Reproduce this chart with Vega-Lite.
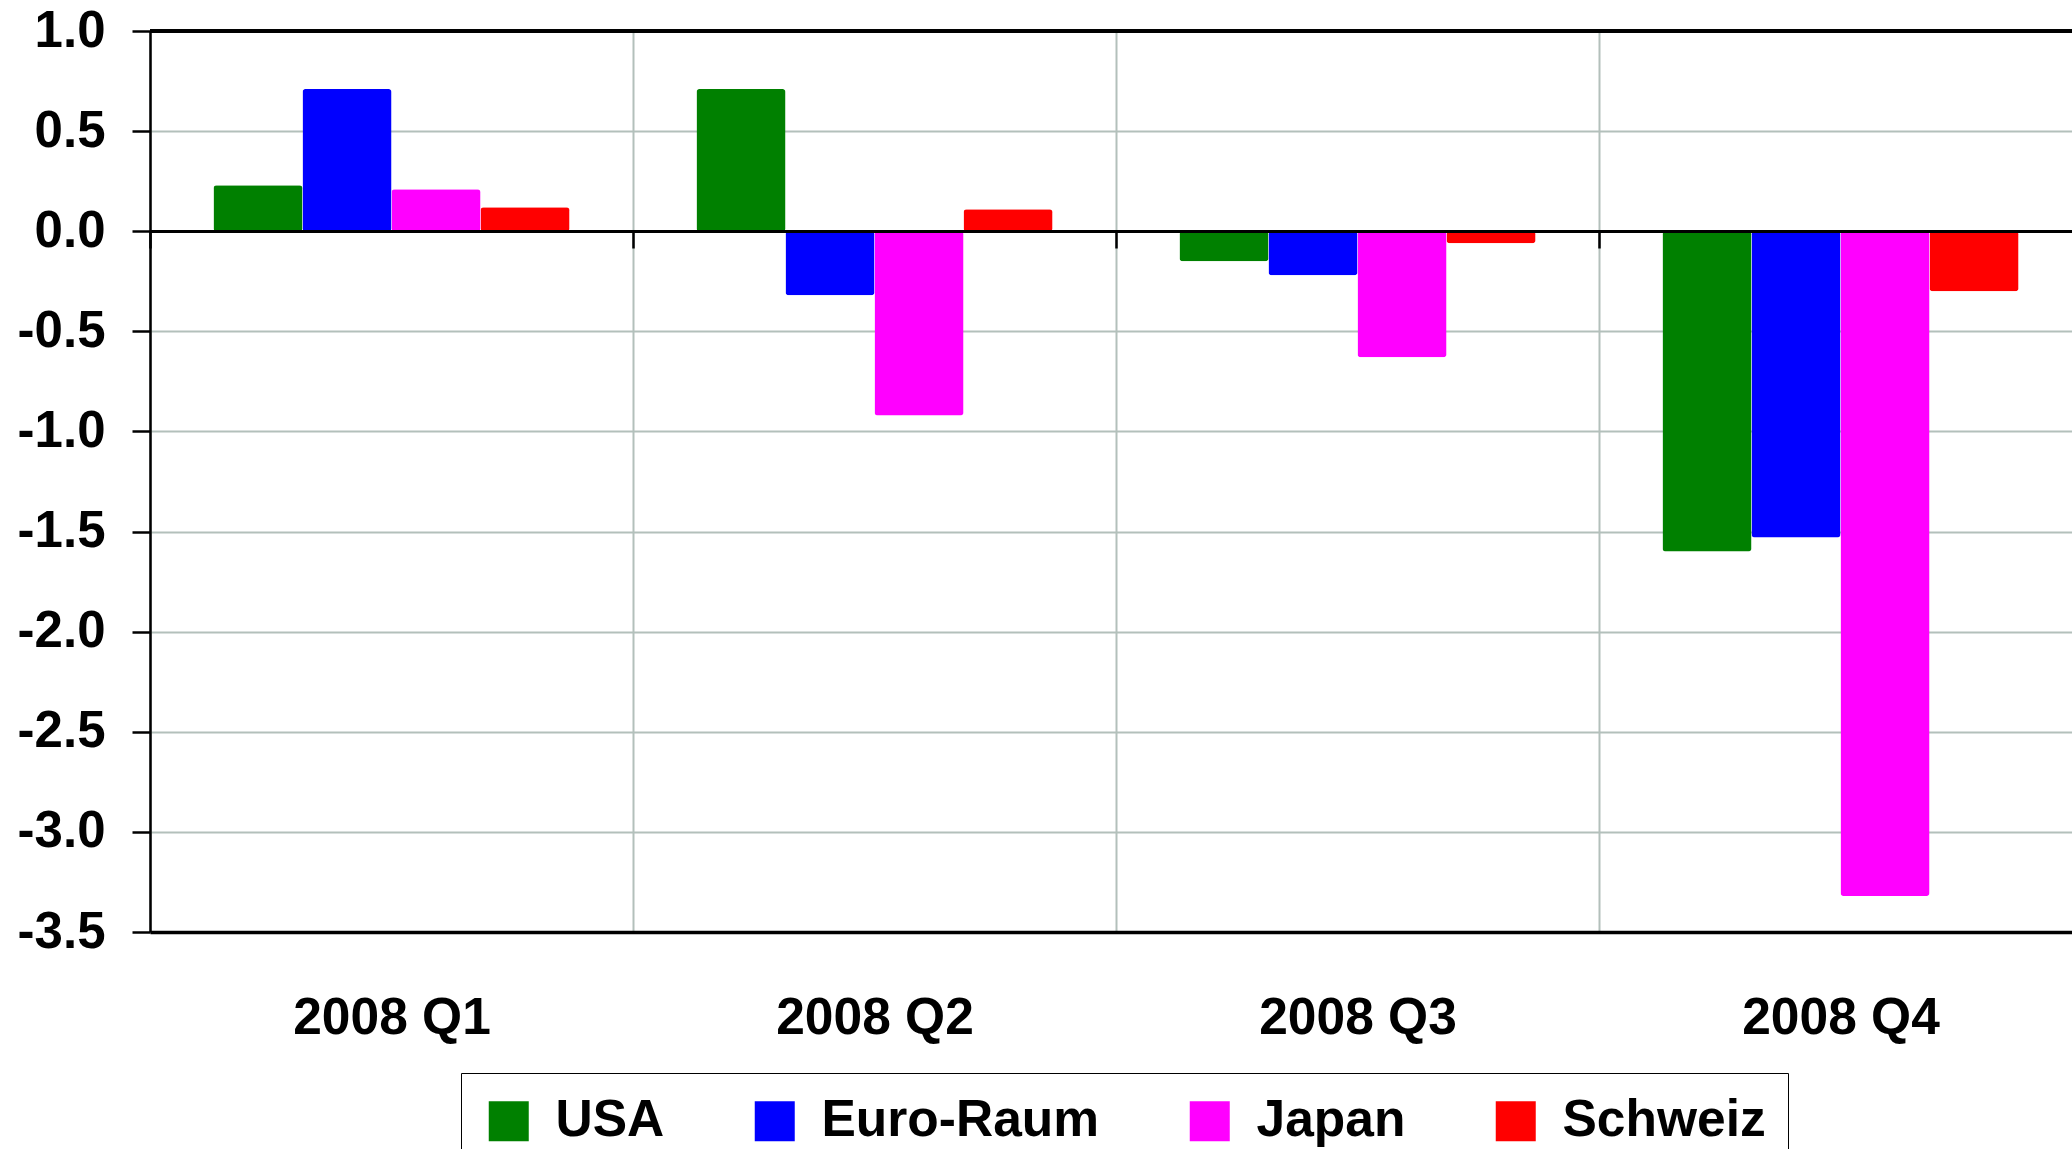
{
  "$schema": "https://vega.github.io/schema/vega-lite/v6.json",
  "autosize": {"type": "none"},
  "padding": {"left": 150, "top": 31, "right": 0, "bottom": 217},
  "width": 1922,
  "height": 901,
  "background": "white",
  "config": {
    "font": "Liberation Sans",
    "view": {"stroke": null}
  },
  "data": {
    "values": [
      {"quarter": "2008 Q1", "region": "USA", "value": 0.23},
      {"quarter": "2008 Q1", "region": "Euro-Raum", "value": 0.71},
      {"quarter": "2008 Q1", "region": "Japan", "value": 0.21},
      {"quarter": "2008 Q1", "region": "Schweiz", "value": 0.12},
      {"quarter": "2008 Q2", "region": "USA", "value": 0.71},
      {"quarter": "2008 Q2", "region": "Euro-Raum", "value": -0.32},
      {"quarter": "2008 Q2", "region": "Japan", "value": -0.92},
      {"quarter": "2008 Q2", "region": "Schweiz", "value": 0.11},
      {"quarter": "2008 Q3", "region": "USA", "value": -0.15},
      {"quarter": "2008 Q3", "region": "Euro-Raum", "value": -0.22},
      {"quarter": "2008 Q3", "region": "Japan", "value": -0.63},
      {"quarter": "2008 Q3", "region": "Schweiz", "value": -0.06},
      {"quarter": "2008 Q4", "region": "USA", "value": -1.6},
      {"quarter": "2008 Q4", "region": "Euro-Raum", "value": -1.53},
      {"quarter": "2008 Q4", "region": "Japan", "value": -3.32},
      {"quarter": "2008 Q4", "region": "Schweiz", "value": -0.3}
    ]
  },
  "resolve": {"axis": {"x": "independent"}},
  "layer": [
    {
      "mark": {"type": "bar", "cornerRadius": 3},
      "encoding": {
        "x": {
          "field": "quarter",
          "type": "nominal",
          "sort": null,
          "scale": {"range": [0, 1932], "paddingInner": 0, "paddingOuter": 0},
          "axis": {
            "title": null,
            "orient": "bottom",
            "labelAngle": 0,
            "labelFont": "Liberation Sans",
            "labelFontWeight": "bold",
            "labelFontSize": 51.5,
            "labelColor": "black",
            "labelLimit": 0,
            "labelBaseline": "alphabetic",
            "labelPadding": 101,
            "ticks": false,
            "tickSize": 0,
            "domain": true,
            "domainColor": "black",
            "domainWidth": 3.5,
            "grid": true,
            "gridColor": "#b3c0bb",
            "gridWidth": 2,
            "tickBand": "extent"
          }
        },
        "xOffset": {
          "field": "region",
          "type": "nominal",
          "sort": ["USA", "Euro-Raum", "Japan", "Schweiz"],
          "scale": {"paddingInner": 0, "paddingOuter": 0.713}
        },
        "y": {
          "field": "value",
          "type": "quantitative",
          "scale": {"domain": [-3.5, 1.0], "nice": false, "zero": false},
          "axis": {
            "title": null,
            "values": [-3.5, -3.0, -2.5, -2.0, -1.5, -1.0, -0.5, 0.0, 0.5, 1.0],
            "labelExpr": "replace(format(datum.value, '.1f'), '\u2212', '-')",
            "labelFont": "Liberation Sans",
            "labelFontWeight": "bold",
            "labelFontSize": 51,
            "labelColor": "black",
            "labelPadding": 27,
            "ticks": true,
            "tickSize": 18,
            "tickColor": "black",
            "tickWidth": 2.5,
            "domain": true,
            "domainColor": "black",
            "domainWidth": 2.5,
            "grid": true,
            "gridColor": "#b3c0bb",
            "gridWidth": 2
          }
        },
        "color": {
          "field": "region",
          "type": "nominal",
          "scale": {
            "domain": ["USA", "Euro-Raum", "Japan", "Schweiz"],
            "range": ["#008000", "#0000ff", "#ff00ff", "#ff0000"]
          },
          "legend": {
            "title": null,
            "orient": "none",
            "legendX": 311,
            "legendY": 1042,
            "direction": "horizontal",
            "columns": 4,
            "symbolType": "square",
            "symbolSize": 1600,
            "symbolStrokeWidth": 0,
            "symbolOpacity": 1,
            "labelFont": "Liberation Sans",
            "labelFontWeight": "bold",
            "labelFontSize": 51.5,
            "labelColor": "black",
            "labelOffset": 21,
            "labelLimit": 0,
            "columnPadding": 84,
            "padding": 22,
            "strokeColor": "black",
            "fillColor": "white"
          }
        }
      }
    },
    {
      "mark": {"type": "rule", "color": "black", "strokeWidth": 2.5},
      "encoding": {"y": {"datum": 0}}
    },
    {
      "mark": {"type": "rule", "color": "black", "strokeWidth": 2.5},
      "encoding": {"y": {"datum": 1.0}}
    },
    {
      "mark": {"type": "point", "opacity": 0},
      "encoding": {
        "x": {
          "field": "quarter",
          "type": "nominal",
          "sort": null,
          "axis": {
            "title": null,
            "orient": "bottom",
            "offset": -701,
            "labels": false,
            "domain": false,
            "grid": false,
            "ticks": true,
            "tickSize": 17,
            "tickColor": "black",
            "tickWidth": 2.5,
            "tickBand": "extent"
          }
        }
      }
    }
  ]
}
